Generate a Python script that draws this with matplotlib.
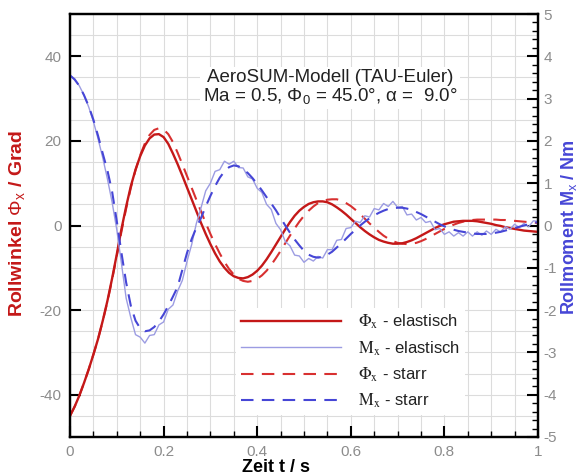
import numpy as np
import matplotlib
matplotlib.use('Agg')
import matplotlib.pyplot as plt
from matplotlib.ticker import MultipleLocator, FormatStrFormatter

plt.rcParams['font.family'] = ['Liberation Sans', 'DejaVu Sans']
plt.rcParams['axes.unicode_minus'] = False
plt.rcParams['mathtext.fontset'] = 'custom'
plt.rcParams['mathtext.rm'] = 'Liberation Sans'
plt.rcParams['mathtext.it'] = 'Liberation Sans:italic'
plt.rcParams['mathtext.bf'] = 'Liberation Sans:bold'

# all series sampled every 0.01 s from t = 0 to 1
# roll angle (deg)
phi_elastic = [-45.0, -42.8, -40.2, -37.2, -34.0, -30.5, -26.8, -22.5, -17.8, -12.5,
               -6.8, -0.8, 4.5, 9.3, 13.2, 16.4, 18.9, 20.6, 21.5, 21.6,
               20.9, 19.3, 17.0, 14.5, 11.8, 9.0, 6.2, 3.4, 0.6, -2.0,
               -4.4, -6.6, -8.5, -10.0, -11.2, -12.0, -12.4, -12.5, -12.2, -11.6,
               -10.7, -9.5, -8.0, -6.3, -4.5, -2.7, -0.9, 0.8, 2.3, 3.5,
               4.4, 5.1, 5.5, 5.7, 5.7, 5.5, 5.0, 4.3, 3.5, 2.6,
               1.6, 0.6, -0.4, -1.3, -2.1, -2.8, -3.4, -3.8, -4.1, -4.3,
               -4.3, -4.2, -3.9, -3.5, -3.0, -2.4, -1.8, -1.2, -0.6, -0.1,
               0.3, 0.6, 0.9, 1.0, 1.1, 1.1, 1.1, 1.0, 0.8, 0.6,
               0.4, 0.1, -0.1, -0.4, -0.6, -0.8, -1.0, -1.2, -1.3, -1.4, -1.5]
phi_rigid = [-45.0, -42.8, -40.2, -37.2, -34.0, -30.5, -26.8, -22.6, -18.0, -12.8,
             -7.2, -1.4, 4.0, 8.9, 13.1, 16.6, 19.4, 21.4, 22.6, 23.0,
             22.7, 21.6, 19.7, 17.2, 14.5, 11.7, 8.9, 6.1, 3.3, 0.6,
             -2.0, -4.4, -6.6, -8.6, -10.3, -11.6, -12.6, -13.1, -13.3, -13.1,
             -12.6, -11.8, -10.7, -9.3, -7.7, -6.0, -4.2, -2.4, -0.7, 0.9,
             2.3, 3.5, 4.5, 5.3, 5.8, 6.1, 6.2, 6.2, 5.9, 5.3,
             4.6, 3.7, 2.7, 1.6, 0.5, -0.5, -1.5, -2.4, -3.1, -3.7,
             -4.1, -4.3, -4.4, -4.3, -4.1, -3.7, -3.2, -2.6, -2.0, -1.4,
             -0.8, -0.3, 0.2, 0.6, 0.9, 1.1, 1.3, 1.4, 1.4, 1.4,
             1.4, 1.4, 1.3, 1.3, 1.2, 1.1, 1.0, 0.9, 0.8, 0.7, 0.6]
# roll moment (Nm)
m_elastic = [3.55, 3.47, 3.30, 3.08, 2.80, 2.46, 2.05, 1.60, 1.10, 0.55,
             -0.10, -0.90, -1.72, -2.18, -2.58, -2.64, -2.78, -2.60, -2.58, -2.35,
             -2.28, -1.98, -1.88, -1.55, -1.30, -0.85, -0.45, 0.05, 0.42, 0.82,
             1.00, 1.28, 1.32, 1.52, 1.45, 1.52, 1.37, 1.36, 1.15, 1.10,
             0.88, 0.78, 0.50, 0.38, 0.05, -0.10, -0.38, -0.48, -0.70, -0.72,
             -0.87, -0.78, -0.84, -0.73, -0.77, -0.57, -0.57, -0.35, -0.33, -0.07,
             -0.05, 0.10, 0.07, 0.23, 0.20, 0.40, 0.37, 0.52, 0.45, 0.57,
             0.43, 0.45, 0.25, 0.27, 0.13, 0.19, 0.07, 0.10, -0.10, -0.07,
             -0.21, -0.15, -0.25, -0.17, -0.25, -0.15, -0.25, -0.15, -0.23, -0.13,
             -0.21, -0.09, -0.15, -0.03, -0.09, 0.03, -0.05, 0.05, -0.03, 0.11, 0.10]
m_rigid = [3.55, 3.45, 3.30, 3.08, 2.82, 2.50, 2.12, 1.70, 1.30, 0.80,
           0.10, -0.65, -1.35, -1.90, -2.25, -2.43, -2.50, -2.48, -2.40, -2.27,
           -2.10, -1.90, -1.68, -1.45, -1.05, -0.65, -0.32, -0.05, 0.18, 0.45,
           0.70, 0.93, 1.13, 1.28, 1.38, 1.42, 1.40, 1.33, 1.24, 1.12,
           0.98, 0.83, 0.67, 0.52, 0.36, 0.18, 0.00, -0.17, -0.33, -0.47,
           -0.60, -0.69, -0.74, -0.76, -0.74, -0.69, -0.62, -0.52, -0.42, -0.31,
           -0.20, -0.10, 0.00, 0.09, 0.17, 0.24, 0.30, 0.35, 0.39, 0.41,
           0.42, 0.42, 0.40, 0.37, 0.32, 0.27, 0.21, 0.15, 0.09, 0.03,
           -0.02, -0.06, -0.10, -0.13, -0.15, -0.17, -0.19, -0.20, -0.20, -0.20,
           -0.19, -0.17, -0.15, -0.12, -0.09, -0.06, -0.03, 0.00, 0.03, 0.06, 0.08]

t = np.linspace(0, 1, len(phi_elastic))

RED = '#c41818'
RED_DASH = '#d83030'
BLUE_LIGHT = '#9c9ce2'
BLUE = '#4646d6'
GRAY = '#8c8c8c'

fig = plt.figure(figsize=(5.78, 4.75), dpi=100)
ax = fig.add_axes([0.1211, 0.08, 0.8097, 0.8905])
ax2 = ax.twinx()

l1, = ax.plot(t, phi_elastic, color=RED, lw=1.7, zorder=4)
l3, = ax.plot(t, phi_rigid, color=RED_DASH, lw=1.5, dashes=(6, 4), zorder=3)
l2, = ax2.plot(t, m_elastic, color=BLUE_LIGHT, lw=1.0)
l4, = ax2.plot(t, m_rigid, color=BLUE, lw=1.5, dashes=(6, 4))

ax.set_xlim(0, 1)
ax.set_ylim(-50, 50)
ax2.set_ylim(-5, 5)

ax.xaxis.set_major_locator(MultipleLocator(0.2))
ax.xaxis.set_minor_locator(MultipleLocator(0.05))
ax.yaxis.set_major_locator(MultipleLocator(20))
ax.yaxis.set_minor_locator(MultipleLocator(5))
ax.xaxis.set_major_formatter(FormatStrFormatter('%g'))
ax2.yaxis.set_major_locator(MultipleLocator(1))
ax2.yaxis.set_minor_locator(MultipleLocator(0.2))

ax.grid(which='both', color='#dcdcdc', lw=0.8)
ax.set_axisbelow(True)

ax.tick_params(which='major', direction='in', length=8, width=1.5, labelcolor=GRAY,
               labelsize=11, pad=6, top=False, right=False)
ax.tick_params(axis='x', which='minor', direction='in', length=4, width=1, top=False)
ax.tick_params(axis='y', which='minor', length=0, right=False)
ax2.tick_params(which='major', direction='in', length=8, width=1.5, labelcolor=GRAY,
                labelsize=11, pad=4)
ax2.tick_params(which='minor', direction='in', length=4, width=1)

for a in (ax, ax2):
    for s in a.spines.values():
        s.set_linewidth(1.6)

fig.text(17 / 578, 1 - 223 / 475, r'Rollwinkel $\Phi_\mathrm{x}$ / Grad', color=RED,
         fontsize=14, fontweight='bold', rotation=90, ha='center', va='center')
fig.text(569 / 578, 1 - 227 / 475, r'Rollmoment $\mathbf{M}_\mathrm{x}$ / Nm', color=BLUE,
         fontsize=13, fontweight='bold', rotation=90, ha='center', va='center')
fig.text(276 / 578, 1 - 467 / 475, 'Zeit t / s', color='black',
         fontsize=13, fontweight='bold', ha='center', va='center')

ax.text(0.555, 0.827, 'AeroSUM-Modell (TAU-Euler)\n' + r'Ma = 0.5, $\Phi_0$ = 45.0°, α =  9.0°',
        transform=ax.transAxes, ha='center', va='center', fontsize=13.5, color='#222222',
        linespacing=1.0, bbox=dict(facecolor='white', edgecolor='none', pad=2))

labels = [r'$\Phi_\mathrm{x}$ - elastisch', r'$\mathrm{M}_\mathrm{x}$ - elastisch',
          r'$\Phi_\mathrm{x}$ - starr', r'$\mathrm{M}_\mathrm{x}$ - starr']
leg = ax2.legend([l1, l2, l3, l4], labels, loc='upper left', bbox_to_anchor=(0.355, 0.305),
                 borderaxespad=0, frameon=True, framealpha=1, facecolor='white', edgecolor='none',
                 fancybox=False, handlelength=6, handletextpad=1.0, labelspacing=0.47,
                 borderpad=0.3, fontsize=12)
for txt in leg.get_texts():
    txt.set_color('#222222')
    txt.set_math_fontfamily('stix')

fig.savefig('out.png', dpi=100)
